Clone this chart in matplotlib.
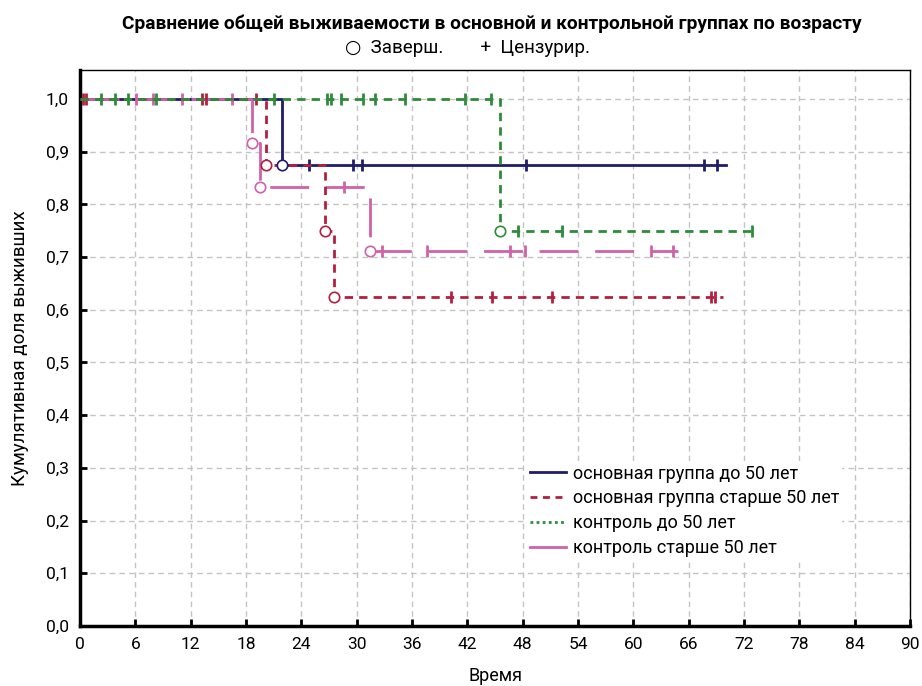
import numpy as np
import matplotlib.pyplot as plt
from matplotlib.lines import Line2D

plt.rcParams['font.family'] = ['Roboto', 'DejaVu Sans']

# Kaplan-Meier curves
group_names = ['основная группа до 50 лет', 'основная группа старше 50 лет',
               'контроль до 50 лет', 'контроль старше 50 лет']

# main group < 50
blue_event_t = [21.9]
blue_event_s = [0.875]
blue_cens_t = [24.8, 29.6, 30.6, 48.4, 67.7, 69.1]
blue_end = 70.1

# main group > 50
red_event_t = [20.2, 26.6, 27.5]
red_event_s = [0.875, 0.75, 0.625]
red_cens_t = [0.35, 0.65, 13.2, 13.7, 19.1, 40.2, 44.7, 51.2, 68.4, 68.9]
red_end = 69.7

# control < 50
green_event_t = [45.5]
green_event_s = [0.75]
green_cens_t = [2.3, 3.8, 5.2, 8.2, 21.0, 26.8, 27.2, 28.3, 30.7, 32.0, 35.2,
                41.7, 44.6, 47.5, 52.3, 72.9]
green_end = 73.0

# control > 50
pink_event_t = [18.6, 19.5, 31.4]
pink_event_s = [0.917, 0.833, 0.712]
pink_cens_t = [6.1, 7.9, 11.1, 16.5, 28.6, 32.7, 37.6, 46.6, 48.3, 61.9, 64.3]
pink_end = 64.8

x_ticks = np.arange(0, 91, 6)
y_ticks = np.arange(0, 1.01, 0.1)


def surv_at(t, ev_t, ev_s):
    s = 1.0
    for et, es in zip(ev_t, ev_s):
        if et <= t:
            s = es
    return s


fig = plt.figure(figsize=(9.22, 6.86), dpi=100)
ax = fig.add_axes([0.0868, 0.0875, 0.9002, 0.8105])

groups = [
    (blue_event_t, blue_event_s, blue_cens_t, blue_end, '#1f1c6b', '-', 1),
    (pink_event_t, pink_event_s, pink_cens_t, pink_end, '#d062a8', (0, (14, 6)), 2),
    (red_event_t, red_event_s, red_cens_t, red_end, '#b22040', (0, (3, 2.2)), 3),
    (green_event_t, green_event_s, green_cens_t, green_end, '#2e8b3a', (0, (3, 2.2)), 4),
]

for ev_t, ev_s, c_t, end, col, ls, z in groups:
    xs = [0] + ev_t + [end]
    ys = [1.0] + ev_s + [ev_s[-1]]
    ax.plot(xs, ys, drawstyle='steps-post', color=col, lw=2, ls=ls, zorder=z)
    cy = [surv_at(t, ev_t, ev_s) for t in c_t]
    ax.plot(c_t, cy, ls='none', marker='|', ms=8, mew=2, color=col, zorder=z)
    ax.plot(ev_t, ev_s, ls='none', marker='o', ms=7.5, mfc='white', mec=col,
            mew=1.2, zorder=z + 5)

ax.set_xlim(0, 90)
ax.set_ylim(0, 1.055)
ax.set_xticks(x_ticks)
ax.set_yticks(y_ticks)
ax.set_yticklabels([f'{v:.1f}'.replace('.', ',') for v in y_ticks])
ax.tick_params(direction='in', length=5, width=2, labelsize=12.5, pad=8)
ax.grid(True, color='#c4c4c4', ls=(0, (4, 3)), lw=1)
ax.set_axisbelow(True)
for side in ['left', 'bottom']:
    ax.spines[side].set_linewidth(2.5)
for side in ['top', 'right']:
    ax.spines[side].set_linewidth(1)

ax.set_xlabel('Время', fontsize=13, labelpad=11)
ax.set_ylabel('Кумулятивная доля выживших', fontsize=13.5, labelpad=12)

fig.text(0.533, 0.966, 'Сравнение общей выживаемости в основной и контрольной группах по возрасту',
         ha='center', va='center', fontsize=13.8, fontweight='bold')
fig.text(0.507, 0.930, '○  Заверш.        +  Цензурир.', ha='center', va='center', fontsize=13.5,
         family=['Roboto', 'DejaVu Sans'])

handles = [
    Line2D([], [], color='#1f1c6b', lw=2, ls='-'),
    Line2D([], [], color='#b22040', lw=2, ls=(0, (2.5, 2))),
    Line2D([], [], color='#2e8b3a', lw=2, ls=(0, (1, 1.2))),
    Line2D([], [], color='#d062a8', lw=2, ls='-'),
]
ax.legend(handles, group_names, loc='upper left', bbox_to_anchor=(0.527, 0.313),
          frameon=True, framealpha=1, edgecolor='none', fontsize=13,
          handlelength=2.0, handletextpad=0.35, labelspacing=0.38, borderpad=0.2)

fig.savefig('out.png', dpi=100)
